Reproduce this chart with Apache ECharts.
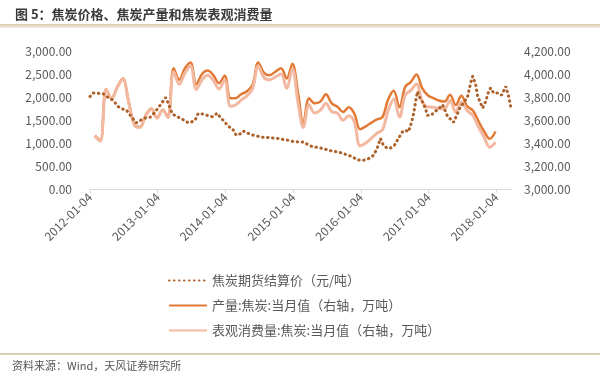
<!DOCTYPE html>
<html><head><meta charset="utf-8">
<script src="https://cdn.jsdelivr.net/npm/echarts@6/dist/echarts.min.js"></script>
<style>html,body{margin:0;padding:0;background:#fff}#c{width:600px;height:381px}</style>
</head><body><div id="c"></div>
<script>
const titleText = '图 5：焦炭价格、焦炭产量和焦炭表观消费量';
const sourceText = '资料来源：Wind，天风证券研究所';
const seriesNames = ['焦炭期货结算价（元/吨）', '产量:焦炭:当月值（右轴，万吨）', '表观消费量:焦炭:当月值（右轴，万吨）'];
const xTickLabels = ['2012-01-04','2013-01-04','2014-01-04','2015-01-04','2016-01-04','2017-01-04','2018-01-04'];
const xAxisEnd = '2018-03-30';

// 焦炭期货结算价 (left axis)
const futDates = [
 '2012-01-04','2012-01-20','2012-02-16','2012-03-15','2012-04-11','2012-05-08','2012-06-04','2012-06-26','2012-07-18','2012-08-14','2012-09-10','2012-10-01','2012-10-23','2012-11-24','2012-12-16',
 '2013-01-06','2013-01-28','2013-02-16','2013-03-01','2013-03-23','2013-04-13','2013-05-10','2013-06-06','2013-06-28','2013-07-25','2013-08-10','2013-09-06','2013-09-28','2013-10-25','2013-11-21','2013-12-07','2013-12-29',
 '2014-01-19','2014-02-10','2014-03-03','2014-03-25','2014-04-10','2014-05-07','2014-06-03','2014-06-25','2014-07-22','2014-08-12','2014-09-14','2014-10-16','2014-11-18','2014-12-09',
 '2015-01-05','2015-02-01','2015-02-28','2015-03-27','2015-04-18','2015-05-20','2015-06-16','2015-07-13','2015-08-09','2015-09-05','2015-10-02','2015-10-29','2015-11-20','2015-12-06','2015-12-22',
 '2016-01-13','2016-02-03','2016-02-25','2016-03-12','2016-04-01','2016-04-19','2016-05-05','2016-05-21','2016-06-01','2016-06-17','2016-07-04','2016-07-25','2016-08-16','2016-09-01','2016-09-17','2016-10-03','2016-10-14','2016-10-25','2016-11-05','2016-11-21','2016-12-02','2016-12-18','2016-12-29',
 '2017-01-20','2017-02-05','2017-02-22','2017-03-21','2017-04-06','2017-04-17','2017-05-08','2017-05-19','2017-06-10','2017-06-26','2017-07-12','2017-08-03','2017-08-19','2017-08-30','2017-09-15','2017-09-26','2017-10-12','2017-10-23','2017-11-08','2017-11-24','2017-12-05','2017-12-21',
 '2018-01-17','2018-02-02','2018-02-24','2018-03-12','2018-03-23'
];
const futValues = [
 2010,2086,2080,2070,1990,1930,1792,1740,1720,1573,1440,1490,1540,1560,1650,
 1760,1880,1990,1870,1640,1580,1537,1460,1440,1500,1640,1630,1600,1570,1647,1560,1470,
 1360,1318,1170,1200,1260,1210,1170,1149,1125,1120,1110,1098,1070,1061,
 1030,1023,1023,960,920,900,880,841,820,804,770,731,700,659,630,
 621,640,680,731,878,1098,951,900,878,900,951,1098,1243,1280,1243,1427,1610,1867,2120,1950,1895,1757,1600,
 1610,1680,1720,1830,1680,1573,1500,1450,1647,1800,1867,2012,2306,2451,2269,2012,1867,1760,1902,2120,2196,2086,
 2086,2040,2232,2012,1792
];

// monthly (right axis)
const months = [
 '2012-01','2012-02','2012-03','2012-04','2012-05','2012-06','2012-07','2012-08','2012-09','2012-10','2012-11','2012-12',
 '2013-01','2013-02','2013-03','2013-04','2013-05','2013-06','2013-07','2013-08','2013-09','2013-10','2013-11','2013-12',
 '2014-01','2014-02','2014-03','2014-04','2014-05','2014-06','2014-07','2014-08','2014-09','2014-10','2014-11','2014-12',
 '2015-01','2015-02','2015-03','2015-04','2015-05','2015-06','2015-07','2015-08','2015-09','2015-10','2015-11','2015-12',
 '2016-01','2016-02','2016-03','2016-04','2016-05','2016-06','2016-07','2016-08','2016-09','2016-10','2016-11','2016-12',
 '2017-01','2017-02','2017-03','2017-04','2017-05','2017-06','2017-07','2017-08','2017-09','2017-10','2017-11','2017-12'
];
const production = [
 3465,3420,3870,3790,3890,3960,3760,3560,3540,3640,3700,3620,
 3690,3630,4050,3950,4050,4100,3910,4000,4030,3990,3920,3985,
 3790,3790,3825,3850,3910,4100,4010,3990,4020,4050,3960,4090,
 3830,3570,3790,3745,3760,3825,3745,3715,3670,3710,3655,3520,
 3545,3575,3605,3625,3780,3855,3711,3890,3930,3995,3880,3815,
 3790,3770,3760,3820,3730,3810,3720,3683,3590,3500,3436,3500
];
const consumption = [
 3460,3415,3865,3785,3885,3955,3755,3555,3535,3635,3695,3615,
 3685,3620,4020,3910,4010,4070,3865,3950,3990,3945,3870,3945,
 3720,3730,3775,3810,3875,4070,3970,3950,3975,4000,3875,4045,
 3743,3535,3732,3660,3685,3746,3673,3660,3597,3638,3582,3375,
 3399,3440,3485,3515,3685,3783,3624,3817,3858,3914,3765,3713,
 3711,3700,3697,3770,3668,3755,3683,3639,3540,3450,3363,3406
];

function toYearFrac(s) {
  const p = s.split('-').map(Number);
  let y = p[0];
  const m = p[1];
  const d = p.length > 2 ? p[2] : new Date(Date.UTC(y, m, 0)).getUTCDate();
  const t = Date.UTC(y, m - 1, d);
  let base = Date.UTC(y, 0, 4);
  if (t < base) { y -= 1; base = Date.UTC(y, 0, 4); }
  const next = Date.UTC(y + 1, 0, 4);
  return y + (t - base) / (next - base);
}
const tickValues = xTickLabels.map(toYearFrac);
const labelByValue = {};
tickValues.forEach((v, i) => { labelByValue[Math.round(v)] = xTickLabels[i]; });
const fmt2 = v => Number(v).toLocaleString('en-US', {minimumFractionDigits: 2, maximumFractionDigits: 2});

const chart = echarts.init(document.getElementById('c'));
const FONT = '"Noto Sans CJK SC", "Noto Sans", sans-serif';
chart.setOption({
  backgroundColor: '#ffffff',
  animation: false,
  textStyle: {fontFamily: FONT},
  title: {
    text: titleText, left: 10, top: 3,
    textStyle: {fontSize: 13, fontWeight: 'bold', color: '#3a3a3a', fontFamily: FONT}
  },
  graphic: [
    {type: 'rect', left: 0, top: 24, shape: {width: 600, height: 4},
     style: {fill: new echarts.graphic.LinearGradient(0, 0, 0, 1, [{offset: 0, color: '#d7c9ab'}, {offset: 1, color: '#f7f2e8'}])}},
    {type: 'rect', left: 0, top: 353, shape: {width: 600, height: 2}, style: {fill: '#d9ccb0'}},
    {type: 'text', left: 12, top: 360, style: {text: sourceText, fontSize: 11, fill: '#555555', fontFamily: FONT}}
  ],
  grid: {left: 90, right: 88, top: 51, bottom: 192, containLabel: false},
  legend: {
    orient: 'vertical', left: 163, top: 269, itemWidth: 38, itemHeight: 12, itemGap: 12,
    data: seriesNames,
    itemStyle: {opacity: 0, borderWidth: 0},
    textStyle: {fontSize: 13, color: '#595959', fontFamily: FONT}
  },
  xAxis: {
    type: 'value', min: 2012, max: toYearFrac(xAxisEnd), interval: 1,
    axisLine: {onZero: false, lineStyle: {color: '#d9d9d9', width: 1}},
    axisTick: {show: true, length: 4, customValues: tickValues, lineStyle: {color: '#d9d9d9'}},
    axisLabel: {customValues: tickValues, rotate: 45, margin: 6, fontSize: 12, color: '#595959',
      formatter: v => labelByValue[Math.round(v)] || ''},
    splitLine: {show: false}
  },
  yAxis: [
    {type: 'value', min: 0, max: 3000, interval: 500,
     axisLine: {show: false}, axisTick: {show: false}, splitLine: {show: false},
     axisLabel: {formatter: fmt2, fontSize: 12, color: '#595959', margin: 18}},
    {type: 'value', min: 3000, max: 4200, interval: 200,
     axisLine: {show: false}, axisTick: {show: false}, splitLine: {show: false},
     axisLabel: {formatter: fmt2, fontSize: 12, color: '#595959', margin: 12}}
  ],
  series: [
    {name: seriesNames[0], type: 'line', yAxisIndex: 0, symbol: 'none', z: 4,
     data: futDates.map((d, i) => [toYearFrac(d), futValues[i]]),
     lineStyle: {color: '#AD622C', width: 3, type: [0.5, 4.5], cap: 'round'},
     itemStyle: {color: '#AD622C'}},
    {name: seriesNames[1], type: 'line', yAxisIndex: 1, symbol: 'none', smooth: 0.35, z: 2,
     data: months.map((d, i) => [toYearFrac(d), production[i]]),
     lineStyle: {color: '#E27A36', width: 2.5}, itemStyle: {color: '#E27A36'}},
    {name: seriesNames[2], type: 'line', yAxisIndex: 1, symbol: 'none', smooth: 0.35, z: 3,
     data: months.map((d, i) => [toYearFrac(d), consumption[i]]),
     lineStyle: {color: '#F3B8A0', width: 3}, itemStyle: {color: '#F3B8A0'}}
  ]
});
</script></body></html>
